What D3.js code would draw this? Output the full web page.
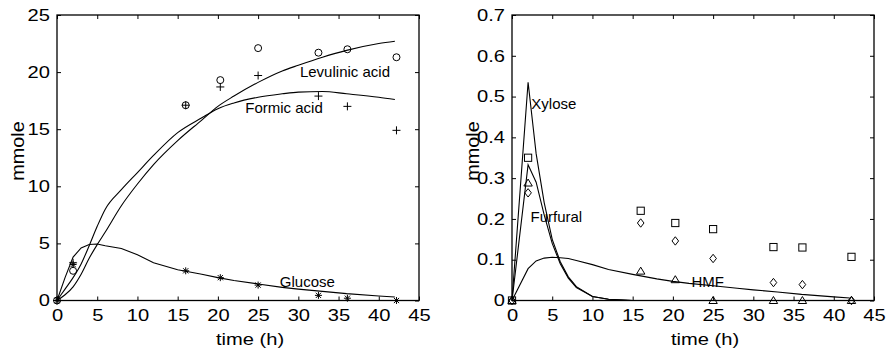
<!DOCTYPE html>
<html>
<head>
<meta charset="utf-8">
<script src="https://cdn.jsdelivr.net/npm/d3@7"></script>
<style>
  body { margin: 0; background: #fff; }
  svg text { font-family: "Liberation Sans", Arial, sans-serif; fill: #000; }
</style>
</head>
<body>
<svg id="chart" width="891" height="356"></svg>
<script>
// sampling times of the experiments (h)
var tObs = [0, 2, 16, 20.3, 25, 32.5, 36.1, 42.2];

// left panel, measured
var levulinicObs = [0, 2.6, 17.1, 19.3, 22.1, 21.7, 22.0, 21.3];   // circles
var formicObs    = [0, 3.3, 17.1, 18.7, 19.7, 17.9, 17.0, 14.9];   // plus
var glucoseObs   = [0, 3.15, 2.6, 2.0, 1.35, 0.45, 0.2, 0.0];      // stars

// left panel, model
var tModel = [0, 1, 2, 3, 4, 5, 6, 8, 10, 12, 15, 18, 20, 22, 25, 28, 30, 33, 36, 40, 42];
var levulinicModel = [0, 0.5, 1.2, 2.3, 3.7, 4.9, 6.0, 8.3, 10.2, 11.9, 14.0, 15.8, 17.0, 17.9, 19.1, 20.1, 20.6, 21.3, 21.9, 22.5, 22.7];
var formicModel    = [0, 1.0, 2.0, 3.2, 4.8, 6.5, 8.0, 9.7, 11.2, 12.7, 14.7, 16.0, 16.8, 17.3, 17.8, 18.1, 18.25, 18.3, 18.1, 17.8, 17.6];
var glucoseModel   = [0, 2.0, 3.8, 4.6, 4.9, 4.95, 4.8, 4.55, 4.0, 3.3, 2.7, 2.3, 2.0, 1.75, 1.45, 1.15, 1.0, 0.8, 0.6, 0.4, 0.3];

// right panel, measured
var squareObs   = [0, 0.35, 0.22, 0.19, 0.175, 0.131, 0.13, 0.107];
var diamondObs  = [0, 0.264, 0.19, 0.146, 0.103, 0.044, 0.039, 0];
var triangleObs = [0, 0.288, 0.072, 0.051, 0, 0, 0, 0];

// right panel, model
var tModelR = [0, 2, 3, 4, 5, 6, 7, 8, 10, 12, 15, 18, 20, 22, 25, 28, 30, 33, 36, 40, 42];
var xyloseModel   = [0, 0.535, 0.36, 0.24, 0.15, 0.095, 0.058, 0.034, 0.01, 0.003, 0, 0, 0, 0, 0, 0, 0, 0, 0, 0, 0];
var furfuralModel = [0, 0.333, 0.29, 0.21, 0.14, 0.09, 0.055, 0.032, 0.01, 0.003, 0, 0, 0, 0, 0, 0, 0, 0, 0, 0, 0];
var hmfModel      = [0, 0.078, 0.097, 0.104, 0.106, 0.105, 0.103, 0.098, 0.088, 0.076, 0.064, 0.053, 0.047, 0.042, 0.036, 0.030, 0.026, 0.021, 0.015, 0.009, 0.006];

var xTicks = [0, 5, 10, 15, 20, 25, 30, 35, 40, 45];
var yTicksL = [0, 5, 10, 15, 20, 25];
var yTicksR = [0, 0.1, 0.2, 0.3, 0.4, 0.5, 0.6, 0.7];

var svg = d3.select("#chart");
var plotTop = 15, plotBottom = 300.5;

// text in the figure is drawn a bit wider than plain Arial
function stretch(sel, k) {
  sel.each(function() {
    var w = this.getComputedTextLength();
    this.setAttribute("textLength", w * k);
    this.setAttribute("lengthAdjust", "spacingAndGlyphs");
  });
}

var markers = {
  circle: function(g) { g.append("circle").attr("r", 3.5); },
  square: function(g) { g.append("rect").attr("x", -3.6).attr("y", -3.6).attr("width", 7.2).attr("height", 7.2); },
  diamond: function(g) { g.append("path").attr("d", "M0,-4.2L3.3,0L0,4.2L-3.3,0Z"); },
  triangle: function(g) { g.append("path").attr("d", "M0,-4L4.2,3L-4.2,3Z"); },
  plus: function(g) { g.append("path").attr("d", "M-4,0H4M0,-4V4"); },
  star: function(g) { g.append("path").attr("d", "M-3.5,0H3.5M0,-3.5V3.5M-2.6,-2.6L2.6,2.6M-2.6,2.6L2.6,-2.6"); }
};

function panel(opt) {
  var x = d3.scaleLinear().domain([0, 45]).range([opt.left, opt.right]);
  var y = d3.scaleLinear().domain([0, opt.ymax]).range([plotBottom, plotTop]);
  var g = svg.append("g");

  var axes = [
    g.append("g").attr("transform", "translate(0," + plotBottom + ")")
      .call(d3.axisBottom(x).tickValues(xTicks).tickSizeInner(-4).tickSizeOuter(0).tickPadding(9).tickFormat(d3.format("d"))),
    g.append("g").attr("transform", "translate(0," + plotTop + ")")
      .call(d3.axisTop(x).tickValues(xTicks).tickSizeInner(-4).tickSizeOuter(0).tickFormat("")),
    g.append("g").attr("transform", "translate(" + opt.left + ",0)")
      .call(d3.axisLeft(y).tickValues(opt.yTicks).tickSizeInner(-4).tickSizeOuter(0).tickPadding(7).tickFormat(opt.fmt)),
    g.append("g").attr("transform", "translate(" + opt.right + ",0)")
      .call(d3.axisRight(y).tickValues(opt.yTicks).tickSizeInner(-4).tickSizeOuter(0).tickFormat(""))
  ];
  axes.forEach(function(a) {
    a.select(".domain").remove();
    a.selectAll("line").attr("stroke", "#000").attr("stroke-width", 1);
    a.selectAll("text").attr("font-size", 16.5).attr("font-family", "Liberation Sans, Arial, sans-serif").call(stretch, 1.22);
  });

  g.append("rect")
    .attr("x", opt.left).attr("y", plotTop)
    .attr("width", opt.right - opt.left).attr("height", plotBottom - plotTop)
    .attr("fill", "none").attr("stroke", "#000").attr("stroke-width", 1.3);

  opt.curves.forEach(function(c) {
    var line = d3.line()
      .x(function(d) { return x(d[0]); })
      .y(function(d) { return y(d[1]); })
      .curve(c.smooth ? d3.curveMonotoneX : d3.curveLinear);
    g.append("path")
      .datum(d3.zip(c.t, c.v))
      .attr("d", line)
      .attr("fill", "none").attr("stroke", "#000").attr("stroke-width", 1.1);
  });

  opt.points.forEach(function(s) {
    g.append("g").selectAll("g").data(d3.zip(tObs, s.v)).join("g")
      .attr("transform", function(d) { return "translate(" + x(d[0]) + "," + y(d[1]) + ")"; })
      .each(function() { markers[s.shape](d3.select(this)); })
      .selectAll("*").attr("fill", "none").attr("stroke", "#000").attr("stroke-width", 1);
  });

  opt.labels.forEach(function(l) {
    g.append("text").attr("x", x(l.t)).attr("y", y(l.v))
      .attr("font-size", 15).text(l.text);
  });

  g.append("text")
    .attr("x", x(24)).attr("y", 345)
    .attr("text-anchor", "middle").attr("font-size", 16.5)
    .text("time (h)").call(stretch, 1.22);

  g.append("text")
    .attr("transform", "translate(" + (opt.left - 33) + ",151) rotate(-90)")
    .attr("text-anchor", "middle").attr("font-size", 18)
    .text("mmole").call(stretch, 1.1);
}

panel({
  left: 57, right: 419, ymax: 25, yTicks: yTicksL, fmt: d3.format("d"),
  curves: [
    { t: tModel, v: levulinicModel, smooth: true },
    { t: tModel, v: formicModel, smooth: true },
    { t: tModel, v: glucoseModel, smooth: false }
  ],
  points: [
    { v: levulinicObs, shape: "circle" },
    { v: formicObs, shape: "plus" },
    { v: glucoseObs, shape: "star" }
  ],
  labels: [
    { t: 30.2, v: 19.6, text: "Levulinic acid" },
    { t: 23.4, v: 16.4, text: "Formic acid" },
    { t: 27.7, v: 1.2, text: "Glucose" }
  ]
});

panel({
  left: 512, right: 874, ymax: 0.7, yTicks: yTicksR, fmt: d3.format(""),
  curves: [
    { t: tModelR, v: xyloseModel },
    { t: tModelR, v: furfuralModel },
    { t: tModelR, v: hmfModel }
  ],
  points: [
    { v: squareObs, shape: "square" },
    { v: diamondObs, shape: "diamond" },
    { v: triangleObs, shape: "triangle" }
  ],
  labels: [
    { t: 2.4, v: 0.47, text: "Xylose" },
    { t: 2.3, v: 0.193, text: "Furfural" },
    { t: 22.3, v: 0.034, text: "HMF" }
  ]
});
</script>
</body>
</html>
